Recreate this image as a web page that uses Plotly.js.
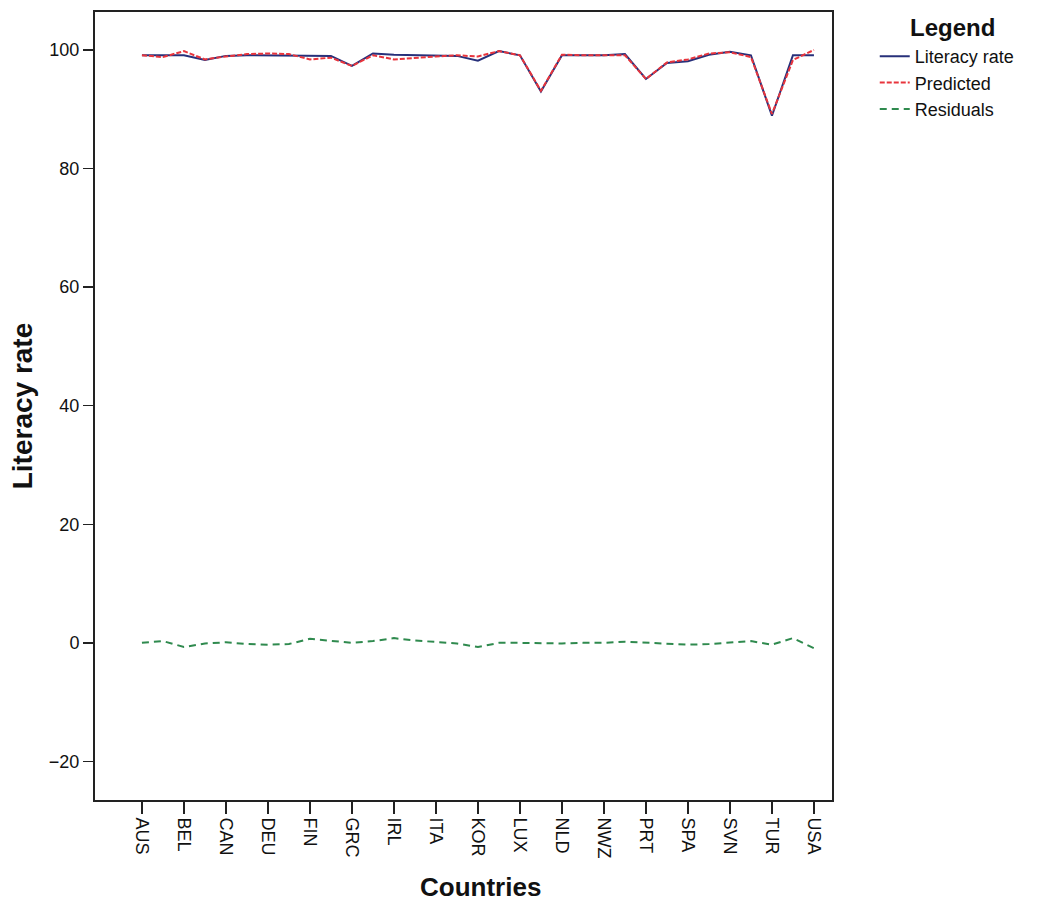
<!DOCTYPE html>
<html>
<head>
<meta charset="utf-8">
<script src="https://cdn.plot.ly/plotly-3.0.1.min.js"></script>
<style>html,body{margin:0;padding:0;background:#fff;}#chart{width:1038px;height:906px;}</style>
</head>
<body>
<div id="chart"></div>
<script>
const countries = ["AUS","AUT","BEL","BGR","CAN","CZE","DEU","DNK","FIN","FRA","GRC","HUN","IRL","ISL","ITA","JPN","KOR","LVA","LUX","MEX","NLD","NOR","NWZ","POL","PRT","ROU","SPA","SVK","SVN","SWE","TUR","UK","USA"];
const tickLabels = ["AUS","BEL","CAN","DEU","FIN","GRC","IRL","ITA","KOR","LUX","NLD","NWZ","PRT","SPA","SVN","TUR","USA"];
const literacyRate = [99.1,99.1,99.1,98.3,99.0,99.1,99.1,99.1,99.1,99.0,97.3,99.4,99.2,99.1,99.0,99.0,98.2,99.8,99.1,93.0,99.1,99.1,99.1,99.3,95.1,97.8,98.1,99.2,99.7,99.1,88.9,99.1,99.1];
const residuals = [0.0,0.3,-0.7,-0.1,0.1,-0.2,-0.3,-0.2,0.7,0.3,0.0,0.3,0.8,0.4,0.1,-0.1,-0.7,0.0,0.0,-0.1,-0.1,0.0,0.0,0.2,0.0,-0.1,-0.3,-0.2,0.1,0.3,-0.3,0.8,-0.9];
const predicted = literacyRate.map((v, i) => Math.round((v - residuals[i]) * 10) / 10);

const font = "Liberation Sans, Arial, sans-serif";
const traces = [
  {x: countries, y: literacyRate, name: "Literacy rate", type: "scatter", mode: "lines",
   line: {color: "#27307a", width: 2}},
  {x: countries, y: predicted, name: "Predicted", type: "scatter", mode: "lines",
   line: {color: "#e8343c", width: 2, dash: "5px,2px"}},
  {x: countries, y: residuals, name: "Residuals", type: "scatter", mode: "lines",
   line: {color: "#2f8a4e", width: 2, dash: "7px,5px"}}
];
const layout = {
  width: 1038, height: 906,
  margin: {l: 95, r: 206, t: 12, b: 106, autoexpand: false},
  paper_bgcolor: "#fff", plot_bgcolor: "#fff",
  font: {family: font, color: "#111", size: 18},
  showlegend: true,
  legend: {x: 1.058, xanchor: "left", y: 0.967, yanchor: "top",
           font: {family: font, size: 18, color: "#111"}, tracegroupgap: 0,
           bgcolor: "rgba(0,0,0,0)", itemwidth: 30},
  annotations: [
    {text: "<b>Legend</b>", xref: "paper", yref: "paper", x: 1.104, y: 0.9797,
     xanchor: "left", yanchor: "middle", showarrow: false, borderpad: 0,
     font: {family: font, size: 24, color: "#111"}},
    {text: "<b>Countries</b>", xref: "paper", yref: "paper", x: 0.5235, y: -0.1104,
     xanchor: "center", yanchor: "middle", showarrow: false, borderpad: 0,
     font: {family: font, size: 26, color: "#111"}}
  ],
  xaxis: {
    type: "category", categoryorder: "array", categoryarray: countries,
    range: [-2.235, 32.86], tickmode: "array", tickvals: tickLabels, ticktext: tickLabels,
    tickangle: 90, ticks: "outside", ticklen: 12, tickwidth: 1.5, tickcolor: "#222",
    showline: true, linecolor: "#222", linewidth: 2, mirror: true, showgrid: false, zeroline: false,
    tickfont: {family: font, size: 18, color: "#111"}
  },
  yaxis: {
    range: [-26.5, 106.4], tickmode: "array", tickvals: [-20,0,20,40,60,80,100],
    ticks: "outside", ticklen: 10, tickwidth: 1.5, tickcolor: "#222",
    showline: true, linecolor: "#222", linewidth: 2, mirror: true, showgrid: false, zeroline: false,
    tickfont: {family: font, size: 18, color: "#111"},
    title: {text: "<b>Literacy rate</b>", font: {family: font, size: 28, color: "#111"}, standoff: 8}
  }
};
Plotly.newPlot("chart", traces, layout, {displayModeBar: false, staticPlot: true});
</script>
</body>
</html>
